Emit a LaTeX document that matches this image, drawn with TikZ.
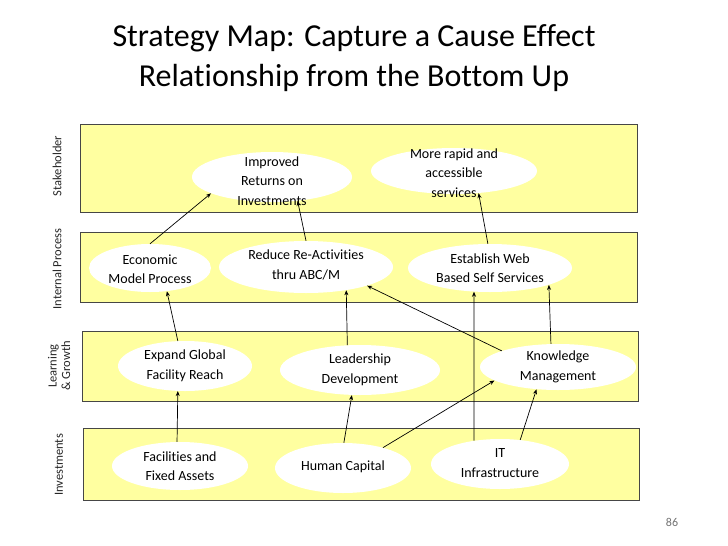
\documentclass[tikz,border=0pt]{standalone}
\usepackage{fontspec}
\setmainfont{Carlito}[Ligatures=CommonOff]
\usetikzlibrary{arrows.meta,shapes.geometric}
\definecolor{bandyellow}{RGB}{255,255,160}
\definecolor{bandline}{RGB}{70,70,70}

\begin{document}
\begin{tikzpicture}[x=1pt,y=-1pt,>={Stealth[length=5pt,width=4pt]},
  band/.style={draw=bandline,fill=bandyellow,line width=0.9pt},
  goal/.style={ellipse,fill=white,draw=none,inner sep=0pt},
  goaltext/.style={align=center,font=\fontsize{14}{19.5}\selectfont},
  tier/.style={rotate=90,align=center,font=\fontsize{12.5}{13.5}\selectfont,text=black!85},
  link/.style={->,line width=0.7pt}]
\useasboundingbox[fill=white] (0,0) rectangle (728,546);
% title
\node[font=\fontsize{32}{40}\selectfont,align=center] (title) at (354,58)
  {Strategy Map: Capture a Cause Effect\\Relationship from the Bottom Up};
% perspective bands
\draw[band] (80,124) rectangle (637,212);
\draw[band] (80,232) rectangle (637,302);
\draw[band] (82,331) rectangle (638,401);
\draw[band] (83,428) rectangle (639,500);
\node[tier] (t-stake) at (57,166) {Stakeholder};
\node[tier] (t-proc) at (57,269) {Internal Process};
\node[tier] (t-learn) at (59,366) {Learning\\\& Growth};
\node[tier] (t-inv) at (59,465) {Investments};
% stakeholder
\node[goal,minimum width=160pt,minimum height=50pt] (imp) at (272,177) {};
\node[goaltext] (imp-t) at (272,181) {Improved\\Returns on\\Investments};
\node[goal,minimum width=166pt,minimum height=46pt] (rap) at (454,171) {};
\node[goaltext] (rap-t) at (454,173) {More rapid and\\accessible\\services};
% internal process
\node[goal,minimum width=122pt,minimum height=48pt] (eco) at (150,268) {};
\node[goaltext] (eco-t) at (150,269) {Economic\\Model Process};
\node[goal,minimum width=174pt,minimum height=52pt] (red) at (306,267) {};
\node[goaltext] (red-t) at (306,265) {Reduce Re-Activities\\thru ABC/M};
\node[goal,minimum width=164pt,minimum height=48pt] (web) at (490,268) {};
\node[goaltext] (web-t) at (490,268) {Establish Web\\Based Self Services};
% learning & growth
\node[goal,minimum width=134pt,minimum height=50pt] (exp) at (185,366) {};
\node[goaltext] (exp-t) at (185,366) {Expand Global\\Facility Reach};
\node[goal,minimum width=160pt,minimum height=50pt] (lea) at (360,370) {};
\node[goaltext] (lea-t) at (360,370) {Leadership\\Development};
\node[goal,minimum width=156pt,minimum height=46pt] (kno) at (558,367) {};
\node[goaltext] (kno-t) at (558,367) {Knowledge\\Management};
% investments
\node[goal,minimum width=136pt,minimum height=48pt] (fac) at (180,466) {};
\node[goaltext] (fac-t) at (180,466) {Facilities and\\Fixed Assets};
\node[goal,minimum width=136pt,minimum height=50pt] (hum) at (343,468) {};
\node[goaltext] (hum-t) at (343,467) {Human Capital};
\node[goal,minimum width=138pt,minimum height=50pt] (itn) at (500,464) {};
\node[goaltext] (itn-t) at (500,463) {IT\\Infrastructure};
% cause -> effect links
\draw[link] (eco.north) -- (imp.195);
\draw[link] (red.north) -- (imp.317);
\draw[link] (web.95) -- (rap.318);
\draw[link] (exp.106) -- (eco.306);
\draw[link] (lea.117) -- (red.330);
\draw[link] (kno.164) -- (red.343);
\draw[link] (itn.138) -- (web.236);
\draw[link] (kno.107) -- (web.344);
\draw[link] (fac.97) -- (exp.254);
\draw[link] (hum.88) -- (lea.252);
\draw[link] (hum.27) -- (kno.192);
\draw[link] (itn.50) -- (kno.226);
% page number
\node[font=\fontsize{12}{14}\selectfont,text=black!55] (pgno) at (672,522) {86};
\end{tikzpicture}
\end{document}
